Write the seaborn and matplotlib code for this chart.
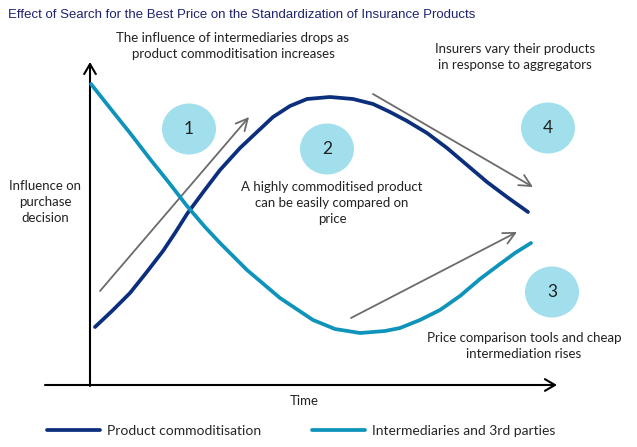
import numpy as np
import pandas as pd
import matplotlib
matplotlib.use("Agg")
import matplotlib.pyplot as plt
from matplotlib.patches import Ellipse
import seaborn as sns

# ── Data (conceptual chart: x = time, y = influence, in picture units) ────────
commod_time = [95, 112, 130, 146, 163, 175, 187, 204, 220, 240, 257, 273, 290, 307, 330,
               353, 373, 390, 407, 427, 447, 467, 487, 507, 528]
commod_infl = [327, 311, 293, 273, 251, 233, 214, 191, 170, 148, 132, 117, 106, 99, 97,
               99, 104, 112, 121, 133, 148, 165, 182, 197, 212]

interm_time = [91, 110, 130, 150, 170, 187, 205, 220, 247, 280, 313, 335, 360, 385,
               400, 420, 440, 460, 480, 500, 515, 531]
interm_infl = [84, 108, 133, 159, 184, 206, 227, 243, 270, 298, 320, 329, 333, 331,
               328, 320, 310, 296, 279, 264, 253, 243]

series_names = ["Product commoditisation", "Intermediaries and 3rd parties"]
series_colors = ["#0c2f7d", "#0e93ba"]

# stage arrows: start / end points
arrow_start = [(100, 291), (373, 94), (351, 318)]
arrow_end = [(249, 117), (533, 187), (517, 232)]

# numbered bubbles
bubble_labels = ["1", "2", "3", "4"]
bubble_x = [189, 327, 552, 548]
bubble_y = [129, 149, 292, 128]

notes = [
    ("The influence of intermediaries drops as\nproduct commoditisation increases", 233, 46),
    ("Insurers vary their products\nin response to aggregators", 515, 57),
    ("A highly commoditised product\ncan be easily compared on\nprice", 332, 203),
    ("Price comparison tools and cheap\nintermediation rises", 524, 346),
    ("Influence on\npurchase\ndecision", 45, 202),
]

df = pd.concat([
    pd.DataFrame({"time": commod_time, "influence": commod_infl, "series": series_names[0]}),
    pd.DataFrame({"time": interm_time, "influence": interm_infl, "series": series_names[1]}),
])

sns.set_theme(style="white")
plt.rcParams["font.family"] = ["Lato", "DejaVu Sans"]

fig = plt.figure(figsize=(6.37, 4.47), dpi=100)
ax = fig.add_axes([0, 0, 1, 1])
ax.set_xlim(0, 637)
ax.set_ylim(447, 0)
ax.axis("off")

# bubbles behind everything
for lab, bx, by in zip(bubble_labels, bubble_x, bubble_y):
    ax.add_patch(Ellipse((bx, by), 54, 51, color="#a0dfeb", lw=0, zorder=1))
    ax.text(bx, by, lab, ha="center", va="center", fontsize=12.5,
            color="#222222", zorder=2)

# axes with arrow heads
ax.annotate("", xy=(90, 62), xytext=(90, 386),
            arrowprops=dict(arrowstyle="->,head_length=0.6,head_width=0.35",
                            color="black", lw=1.5, shrinkA=0, shrinkB=0))
ax.annotate("", xy=(557, 385), xytext=(45, 385),
            arrowprops=dict(arrowstyle="->,head_length=0.6,head_width=0.35",
                            color="black", lw=1.5, shrinkA=0, shrinkB=0))

# curves
sns.lineplot(data=df, x="time", y="influence", hue="series", palette=series_colors,
             hue_order=series_names, sort=False, estimator=None, lw=2.7, ax=ax,
             zorder=4)
for line in ax.get_lines():
    line.set_solid_joinstyle("round")

# stage arrows
for s, e in zip(arrow_start, arrow_end):
    ax.annotate("", xy=e, xytext=s,
                arrowprops=dict(arrowstyle="->,head_length=0.7,head_width=0.35",
                                color="#6b6b6b", lw=1.3, shrinkA=0, shrinkB=0),
                zorder=3)

for txt, tx, ty in notes:
    ax.text(tx, ty, txt, ha="center", va="center", fontsize=9.5,
            color="#222222", linespacing=1.4)

ax.text(304, 401, "Time", ha="center", va="center", fontsize=9.5, color="#222222")

ax.text(8, 15, "Effect of Search for the Best Price on the Standardization of Insurance Products",
        ha="left", va="center", fontsize=9.5, color="#1f2370",
        family=["Liberation Sans", "DejaVu Sans"])

ax.legend(loc="center left", bbox_to_anchor=(47 / 637, 1 - 431 / 447), ncol=2,
          frameon=False, fontsize=10, handlelength=3.8, handletextpad=0.5,
          columnspacing=3.7, borderpad=0, borderaxespad=0)

fig.savefig("out.png", dpi=100)
